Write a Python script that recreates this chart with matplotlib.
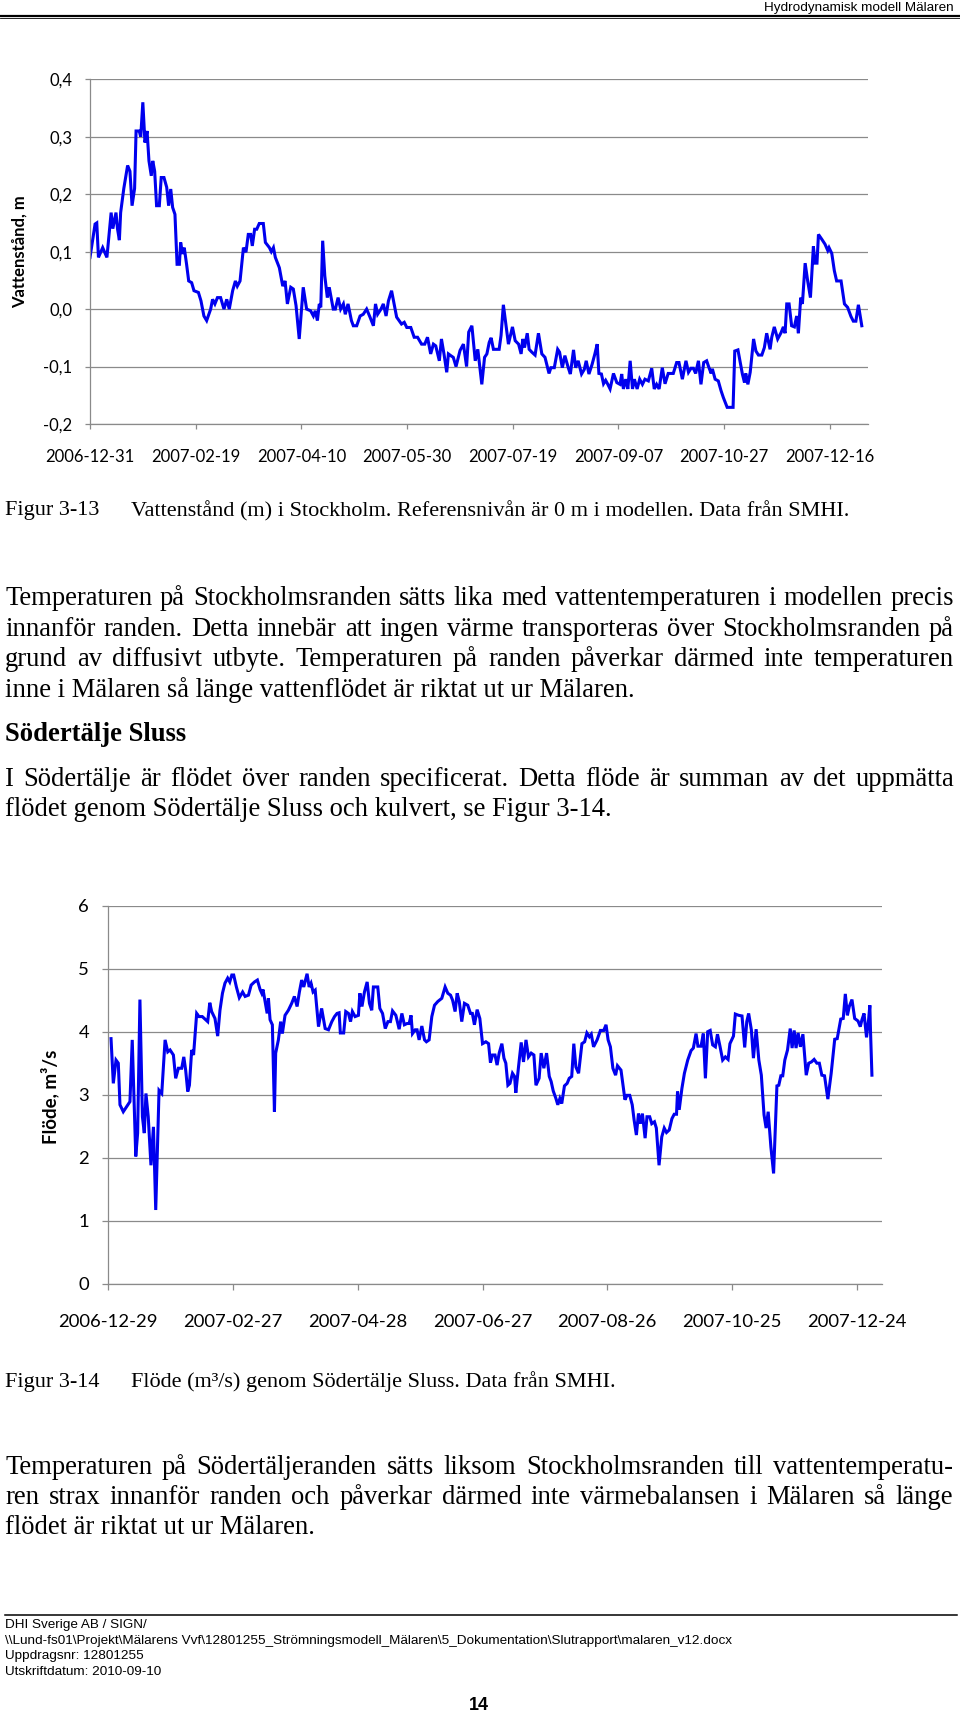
import unicodedata

import numpy as np
import matplotlib

matplotlib.use("Agg")
import matplotlib.pyplot as plt
from matplotlib import font_manager
from matplotlib.lines import Line2D

W, H = 960, 1714

# ---- data: Figur 3-13, water level Stockholm (days after 2006-12-31) ----
level_start = "2006-12-31"
level_days = [
    0, 2.4, 3.2, 4, 6, 8, 10, 10.8, 12.3, 13, 13.9, 14.5, 16, 17.8, 18.9, 19.9,
    21.1, 21.8, 23.3, 24, 25, 26, 27, 27.9, 29, 29.7, 30.6, 31.5, 32.8, 33.7, 35,
    36.3, 37.2, 38.2, 39.1, 40.2, 41.2, 42.3, 42.9, 43.8, 44.6, 45.7, 46.7, 48.1,
    49.2, 51.3, 52.5, 53.9, 55.2, 57.1, 58, 59.1, 60.3, 61.8, 63.4, 64.7, 65.9,
    67.5, 68.8, 69.7, 71, 72.6, 73.8, 74.9, 76, 76.8, 77.9, 78.9, 80.1, 82, 83,
    84.9, 85.8, 86.8, 87.7, 89.6, 91.2, 92.3, 93.4, 95, 96.2, 97.5, 99, 100.9,
    102.5, 104.4, 105.7, 106.6, 107.6, 108.5, 109.2, 110.1, 111.1, 112.3, 113.2,
    115.1, 116.1, 117.4, 118.6, 119.9, 120.8, 122.1, 123.7, 124.6, 126.2, 127.8,
    129.3, 130.9, 132.5, 134.1, 135.1, 136.1, 137.7, 138.8, 140.1, 141.2, 142.7,
    145.1, 147.4, 148.7, 149.9, 151.8, 153.4, 155, 156.9, 158.4, 159.7, 161.2,
    162.5, 163.6, 165.3, 166.3, 167.5, 168.8, 169.6, 170.7, 171.9, 173.2, 175.1,
    176.7, 178.2, 179.2, 180.7, 182.3, 183.5, 185.4, 186.7, 187.8, 188.9, 189.8,
    190.9, 193.6, 194.5, 195.6, 196.4, 198, 199.9, 201.2, 202.8, 204, 204.8,
    205.6, 206.9, 207.8, 209.1, 210.6, 212.2, 213.8, 215.3, 217.2, 218.1, 219.7,
    221.3, 222.2, 223.5, 224.7, 226.3, 227.3, 228.8, 229.8, 231, 232.6, 233.9,
    234.8, 236.1, 237.6, 238.9, 240, 240.8, 242, 243, 244, 244.9, 246.1, 247.7,
    249.3, 250.8, 251.6, 252.4, 253.5, 254.5, 255.6, 256.7, 257.6, 258.9, 260.1,
    261.4, 262.6, 264.2, 265.8, 267, 268.1, 269.3, 270.8, 272.1, 273.6, 276,
    277.6, 278.7, 280.3, 282, 283.2, 284.4, 285.5, 286.6, 287.9, 289.1, 290.4,
    291.8, 292.9, 293.9, 294.5, 295.8, 297.3, 298.6, 299.7, 301.5, 304.3, 305.1,
    306.6, 307.7, 308.7, 309.7, 310.3, 311.3, 312.4, 314, 315.1, 316.3, 317.9,
    319.1, 320.2, 321.8, 322.6, 323.8, 325.4, 327, 328.1, 328.9, 329.7, 330.8,
    332, 333.3, 334.4, 335.2, 336.3, 337.1, 338.4, 339.6, 340.9, 342.3, 343.1,
    344, 344.7, 346.2, 347.8, 349.1, 349.7, 351, 352.2, 353.3, 355.4, 357, 358.5,
    360.1, 361.2, 362.4, 363.6, 365.2,
]
level_m = [
    0.09, 0.148, 0.15, 0.09, 0.107, 0.09, 0.168, 0.14, 0.168, 0.14, 0.12, 0.168,
    0.21, 0.25, 0.24, 0.18, 0.21, 0.31, 0.31, 0.30, 0.36, 0.29, 0.31, 0.258,
    0.232, 0.258, 0.24, 0.18, 0.18, 0.229, 0.229, 0.212, 0.18, 0.209, 0.177,
    0.165, 0.078, 0.078, 0.116, 0.096, 0.107, 0.078, 0.049, 0.046, 0.032, 0.029,
    0.0145, -0.012, -0.02, 0.0, 0.017, 0.009, 0.02, 0.02, 0.0, 0.017, 0.0, 0.032,
    0.049, 0.04, 0.049, 0.107, 0.099, 0.13, 0.13, 0.11, 0.139, 0.139, 0.149,
    0.149, 0.116, 0.107, 0.1, 0.107, 0.09, 0.072, 0.04, 0.049, 0.009, 0.038,
    0.035, 0.006, -0.052, 0.038, 0.0, -0.003, -0.012, -0.003, -0.02, 0.009,
    0.003, 0.119, 0.058, 0.02, 0.038, 0.0, 0.0, 0.02, 0.0, 0.009, -0.009, 0.009,
    -0.02, -0.029, -0.029, -0.012, -0.009, 0.0, -0.014, -0.029, 0.009, -0.009,
    0.0, 0.009, -0.012, 0.014, 0.032, -0.014, -0.026, -0.023, -0.032, -0.032,
    -0.049, -0.049, -0.061, -0.061, -0.049, -0.078, -0.061, -0.064, -0.09,
    -0.052, -0.078, -0.11, -0.078, -0.081, -0.084, -0.1, -0.072, -0.061, -0.1,
    -0.04, -0.029, -0.09, -0.07, -0.131, -0.084, -0.078, -0.058, -0.05, -0.07,
    -0.07, -0.046, 0.0075, -0.015, -0.061, -0.031, -0.055, -0.061, -0.078,
    -0.052, -0.067, -0.042, -0.07, -0.075, -0.08, -0.042, -0.078, -0.084,
    -0.112, -0.102, -0.102, -0.07, -0.075, -0.102, -0.081, -0.102, -0.113,
    -0.071, -0.102, -0.09, -0.113, -0.105, -0.09, -0.113, -0.096, -0.078,
    -0.061, -0.112, -0.113, -0.13, -0.124, -0.13, -0.139, -0.112, -0.128,
    -0.131, -0.113, -0.139, -0.122, -0.139, -0.09, -0.139, -0.122, -0.139,
    -0.122, -0.131, -0.122, -0.125, -0.103, -0.139, -0.131, -0.139, -0.102,
    -0.13, -0.112, -0.112, -0.093, -0.093, -0.122, -0.09, -0.11, -0.103, -0.103,
    -0.112, -0.09, -0.131, -0.093, -0.09, -0.102, -0.112, -0.104, -0.122,
    -0.125, -0.142, -0.154, -0.171, -0.171, -0.073, -0.071, -0.093, -0.113,
    -0.128, -0.112, -0.131, -0.11, -0.052, -0.073, -0.08, -0.08, -0.067, -0.042,
    -0.07, -0.049, -0.031, -0.052, -0.041, -0.031, -0.042, 0.009, 0.009, -0.029,
    -0.031, -0.012, -0.042, 0.02, 0.009, 0.08, 0.049, 0.02, 0.109, 0.08, 0.08,
    0.13, 0.122, 0.113, 0.102, 0.107, 0.097, 0.067, 0.049, 0.049, 0.009, 0.003,
    -0.013, -0.021, -0.021, 0.0075, -0.029,
]
level_ticks = np.arange(0, 351, 50)
level_yticks = [-0.2, -0.1, 0.0, 0.1, 0.2, 0.3, 0.4]

# ---- data: Figur 3-14, flow Södertälje Sluss (days after 2006-12-29) ----
flow_start = "2006-12-29"
flow_days = [
    1.3, 2.4, 3.7, 4.8, 5.6, 7.2, 8.8, 10.4, 11.5, 13.2, 14.1, 15.2, 16.4, 17.3,
    18.1, 19.2, 20.5, 21.7, 22.8, 24.4, 25.7, 27.3, 28.6, 29.7, 31.3, 32.4, 33.7,
    35.3, 36.3, 37.2, 38.2, 39, 40.1, 41, 42.5, 43.6, 45.2, 46.8, 47.8, 48.8,
    49.7, 51.3, 52.6, 53.7, 54.9, 56.1, 57.4, 58.4, 59.4, 60.3, 61.6, 63, 64.6,
    65.8, 67.4, 68.7, 70.3, 71.7, 73, 73.8, 74.4, 75.4, 76.4, 77, 77.8, 78.9,
    79.9, 80.5, 81.8, 82.9, 83.7, 85, 86.6, 88.2, 89.5, 90.8, 91.9, 93, 94, 95.6,
    96.6, 97.5, 98.5, 99.5, 101.1, 102.6, 104.3, 105.9, 107.5, 108.8, 110, 111,
    111.6, 113.2, 114.2, 115.5, 116.5, 117.4, 118.7, 120.3, 121, 122, 123.2,
    124.5, 125.6, 126.7, 127.5, 129.6, 130.6, 131.9, 133.2, 134.5, 135.7, 136.7,
    138.3, 139.9, 141.2, 142.4, 143.7, 144.7, 145.6, 146.3, 147.6, 148.5, 149.5,
    150.8, 152.1, 153, 154.3, 155.6, 156.9, 158.5, 160.4, 162, 163.3, 164.6,
    165.6, 166.8, 167.8, 168.8, 170, 171.3, 172.9, 174.2, 175.1, 176.1, 177.4,
    178.7, 180, 181.6, 182.9, 183.8, 184.8, 186, 187, 188, 189.3, 190.3, 191.2,
    192.2, 193.2, 194.4, 195.4, 196, 197.3, 198.6, 199.7, 200.9, 202.1, 203.4,
    204.7, 205.7, 207.2, 208.2, 209.5, 210.8, 212.1, 213, 214, 215.3, 216.2,
    217.2, 218.1, 219.4, 220.7, 221.7, 222.9, 223.9, 224.9, 226.2, 227.8, 229.1,
    230.2, 231.4, 232.3, 233.4, 235.1, 236.7, 238.3, 239.4, 240.4, 241.5, 242.7,
    244, 244.9, 246.6, 247.6, 248.5, 249.5, 250.8, 252, 252.9, 254, 255, 255.9,
    256.9, 258.2, 259.1, 260.4, 261.4, 262.7, 263.6, 264.9, 266.2, 267.4, 268.5,
    269.8, 271.1, 272.2, 273.3, 273.8, 274.6, 275.9, 277.1, 278.7, 280.3, 281.4,
    282.7, 283.6, 285.1, 286.2, 287.2, 288.3, 289.5, 290.7, 292, 293, 294.2,
    295.5, 296.8, 298.1, 299, 300.7, 301.6, 303.2, 304.8, 306.1, 307.1, 308,
    309.3, 310.3, 311.6, 312.9, 314.1, 315.4, 316.4, 317.4, 318.7, 320, 321.6,
    322.5, 323.5, 324.4, 325.4, 326.7, 328, 328.9, 329.9, 330.8, 331.8, 332.9,
    334.1, 335.7, 336.9, 338.2, 339.5, 340.8, 342, 343.2, 344.5, 346.1, 347.7,
    349.4, 350.6, 352.3, 353.5, 354.5, 355.5, 356.4, 357.7, 359, 360.6, 361.7,
    362.5, 363.5, 364.7, 365.7, 366.3, 366.6, 367.3,
]
flow_m3s = [
    3.89, 3.18, 3.55, 3.50, 2.84, 2.73, 2.81, 2.89, 3.87, 2.02, 2.39, 4.51, 2.65,
    2.39, 3.02, 2.65, 1.88, 2.49, 1.17, 3.07, 3.02, 3.87, 3.68, 3.71, 3.63, 3.26,
    3.42, 3.42, 3.60, 3.39, 3.05, 3.15, 3.71, 3.63, 4.29, 4.24, 4.24, 4.19, 4.16,
    4.46, 4.32, 4.21, 3.93, 4.34, 4.61, 4.77, 4.85, 4.79, 4.90, 4.90, 4.71, 4.54,
    4.63, 4.56, 4.58, 4.74, 4.79, 4.82, 4.67, 4.61, 4.67, 4.48, 4.29, 4.53, 4.19,
    4.11, 2.73, 3.66, 3.87, 4.16, 3.97, 4.26, 4.34, 4.45, 4.56, 4.40, 4.63, 4.82,
    4.71, 4.92, 4.71, 4.77, 4.63, 4.66, 4.08, 4.37, 4.05, 4.03, 4.16, 4.24, 4.29,
    4.30, 3.98, 3.98, 4.32, 4.29, 4.16, 4.32, 4.24, 4.26, 4.61, 4.40, 4.63, 4.79,
    4.45, 4.34, 4.71, 4.71, 4.37, 4.29, 4.05, 4.16, 4.16, 4.33, 4.26, 4.04, 4.29,
    4.11, 4.13, 4.13, 4.26, 3.97, 4.03, 4.03, 3.87, 4.09, 3.87, 3.84, 3.87, 4.24,
    4.42, 4.48, 4.53, 4.71, 4.61, 4.58, 4.50, 4.32, 4.61, 4.48, 4.16, 4.45, 4.42,
    4.29, 4.29, 4.11, 4.35, 4.21, 3.81, 3.84, 3.81, 3.51, 3.63, 3.63, 3.47, 3.66,
    3.81, 3.58, 3.50, 3.15, 3.18, 3.34, 3.29, 3.03, 3.44, 3.83, 3.52, 3.87, 3.60,
    3.66, 3.63, 3.15, 3.26, 3.66, 3.42, 3.66, 3.29, 3.21, 3.06, 2.94, 2.84, 2.94,
    2.86, 3.14, 3.18, 3.26, 3.29, 3.81, 3.44, 3.34, 3.81, 3.84, 3.98, 3.92, 3.96,
    3.76, 3.87, 4.02, 4.02, 4.11, 3.87, 3.76, 3.42, 3.31, 3.46, 3.39, 3.14, 2.92,
    2.99, 2.99, 2.84, 2.60, 2.36, 2.70, 2.54, 2.70, 2.31, 2.65, 2.65, 2.54, 2.57,
    2.47, 1.88, 2.33, 2.47, 2.40, 2.44, 2.62, 2.69, 2.69, 3.05, 2.76, 3.10, 3.34,
    3.55, 3.70, 3.74, 3.97, 3.77, 3.77, 3.97, 3.26, 4.00, 4.02, 3.79, 3.76, 3.96,
    3.77, 3.55, 3.60, 3.56, 3.81, 3.93, 4.28, 4.26, 4.25, 3.75, 4.16, 4.29, 4.03,
    3.58, 4.04, 3.55, 3.31, 2.68, 2.47, 2.73, 2.17, 1.75, 3.14, 3.15, 3.30, 3.30,
    3.55, 3.71, 4.05, 3.74, 4.02, 3.74, 3.98, 3.76, 3.96, 3.31, 3.50, 3.52, 3.56,
    3.50, 3.50, 3.31, 3.30, 2.93, 3.34, 3.88, 3.89, 4.20, 4.21, 4.60, 4.26, 4.40,
    4.51, 4.21, 4.17, 4.08, 4.19, 4.29, 3.91, 4.19, 4.42, 4.03, 3.31,
]
flow_ticks = np.arange(0, 361, 60)
flow_yticks = [0, 1, 2, 3, 4, 5, 6]

# ---- page text ----
header = "Hydrodynamisk modell Mälaren"
caption_13 = "Vattenstånd (m) i Stockholm. Referensnivån är 0 m i modellen. Data från SMHI."
caption_14 = "Flöde (m³/s) genom Södertälje Sluss. Data från SMHI."
para_1 = [
    "Temperaturen på Stockholmsranden sätts lika med vattentemperaturen i modellen precis",
    "innanför randen. Detta innebär att ingen värme transporteras över Stockholmsranden på",
    "grund av diffusivt utbyte. Temperaturen på randen påverkar därmed inte temperaturen",
    "inne i Mälaren så länge vattenflödet är riktat ut ur Mälaren.",
]
heading = "Södertälje Sluss"
para_2 = [
    "I Södertälje är flödet över randen specificerat. Detta flöde är summan av det uppmätta",
    "flödet genom Södertälje Sluss och kulvert, se Figur 3-14.",
]
para_3 = [
    "Temperaturen på Södertäljeranden sätts liksom Stockholmsranden till vattentemperatu-",
    "ren strax innanför randen och påverkar därmed inte värmebalansen i Mälaren så länge",
    "flödet är riktat ut ur Mälaren.",
]
footer = [
    "DHI Sverige AB / SIGN/",
    r"\\Lund-fs01\Projekt\Mälarens Vvf\12801255_Strömningsmodell_Mälaren\5_Dokumentation\Slutrapport\malaren_v12.docx",
    "Uppdragsnr: 12801255",
    "Utskriftdatum: 2010-09-10",
]
page_no = "14"

BLUE = "#0000EE"
GRID = "#8A8A8A"
SERIF = "Liberation Serif"
CHART = "Lato"
BODY = 19.2
CAPTION = 16.0
_names = {f.name for f in font_manager.fontManager.ttflist}
NARROW = "Liberation Sans Narrow" if "Liberation Sans Narrow" in _names else "Liberation Sans"
SMALL = 11.8 if NARROW.endswith("Narrow") else 9.7


def nfc(s):
    return unicodedata.normalize("NFC", s)


def fx(x):
    return x / W


def fy(y):
    return 1 - y / H


def style_axes(ax, fs, tick_len, xpad):
    for side in ("top", "right"):
        ax.spines[side].set_visible(False)
    for side in ("left", "bottom"):
        ax.spines[side].set_color(GRID)
        ax.spines[side].set_linewidth(0.9)
    ax.grid(axis="y", color=GRID, linewidth=0.9)
    ax.set_axisbelow(True)
    ax.tick_params(axis="both", colors=GRID, labelcolor="black", labelsize=fs,
                   length=tick_len, width=0.9, direction="out")
    ax.tick_params(axis="y", pad=9.2)
    ax.tick_params(axis="x", pad=xpad)
    for lab in ax.get_xticklabels() + ax.get_yticklabels():
        lab.set_family(CHART)


def justified(fig, line, y, size, x0=5, x1=954, weight="normal"):
    # words share one baseline so accents (å) do not shift single words
    r = fig.canvas.get_renderer()
    base = y + 0.233 * size * 100 / 72
    words = nfc(line).split()
    arts = [fig.text(0, fy(base), w, family=SERIF, fontsize=size, weight=weight,
                     va="baseline", ha="left") for w in words]
    widths = [a.get_window_extent(r).width for a in arts]
    gap = (x1 - x0 - sum(widths)) / max(len(words) - 1, 1)
    x = x0
    for a, w in zip(arts, widths):
        a.set_x(fx(x))
        x += w + gap


def plain(fig, text, x, y, size, weight="normal", family=SERIF, ha="left"):
    fig.text(fx(x), fy(y), nfc(text), family=family, fontsize=size, weight=weight,
             va="center", ha=ha)


fig = plt.figure(figsize=(W / 100, H / 100), dpi=100, facecolor="white")

# header
plain(fig, header, 954, 8, SMALL, family=NARROW, ha="right")
fig.add_artist(Line2D([0, 1], [fy(15.5), fy(15.5)], color="black", lw=1.6))
fig.add_artist(Line2D([0, 1], [fy(18.3), fy(18.3)], color="black", lw=0.6))

# chart 1
ax1 = fig.add_axes([fx(90), fy(424), (867.7 - 90) / W, (424 - 79.3) / H])
ax1.plot(level_days, level_m, color=BLUE, lw=2.2, solid_joinstyle="miter")
ax1.set_xlim(0, 368)
ax1.set_ylim(-0.2, 0.4)
ax1.set_yticks(level_yticks)
ax1.set_yticklabels([f"{v:.1f}".replace(".", ",") for v in level_yticks])
ax1.set_xticks(level_ticks)
ax1.set_xticklabels((np.datetime64(level_start) + level_ticks).astype(str))
style_axes(ax1, 12, 3.6, 14.5)
fig.text(fx(20), fy(252), nfc("Vattenstånd, m"), rotation=90, ha="center", va="center",
         family=CHART, weight="bold", fontsize=12)

plain(fig, "Figur 3-13", 5, 511, CAPTION)
plain(fig, caption_13, 131, 511, CAPTION)

for i, line in enumerate(para_1):
    y = 599 + i * 30.3
    if i < len(para_1) - 1:
        justified(fig, line, y, BODY)
    else:
        plain(fig, line, 5, y, BODY)
plain(fig, heading, 5, 735, BODY, weight="bold")
justified(fig, para_2[0], 780, BODY)
plain(fig, para_2[1], 5, 809.5, BODY)

# chart 2
ax2 = fig.add_axes([fx(107.7), fy(1283.7), (881.7 - 107.7) / W, (1283.7 - 905.7) / H])
ax2.plot(flow_days, flow_m3s, color=BLUE, lw=2.2, solid_joinstyle="miter")
ax2.set_xlim(-0.3, 372)
ax2.set_ylim(0, 6)
ax2.set_yticks(flow_yticks)
ax2.set_yticklabels([str(v) for v in flow_yticks])
ax2.set_xticks(flow_ticks)
ax2.set_xticklabels((np.datetime64(flow_start) + flow_ticks).astype(str))
style_axes(ax2, 13.3, 4.3, 17.5)
fig.text(fx(50), fy(1097), nfc("Flöde, m³/s"), rotation=90, ha="center", va="center",
         family=CHART, weight="bold", fontsize=13.5)

plain(fig, "Figur 3-14", 5, 1382, CAPTION)
plain(fig, caption_14, 131, 1382, CAPTION)

for i, line in enumerate(para_3):
    y = 1468 + i * 30
    if i < len(para_3) - 1:
        justified(fig, line, y, BODY, x1=953)
    else:
        plain(fig, line, 5, y, BODY)

# footer
fig.add_artist(Line2D([fx(5), fx(957)], [fy(1615), fy(1615)], color="black", lw=1.1))
for i, line in enumerate(footer):
    plain(fig, line, 5, 1625 + i * 15.6, SMALL, family=NARROW)
plain(fig, page_no, 479, 1705, 13, weight="bold", family=NARROW, ha="center")

fig.savefig("out.png", dpi=100, facecolor="white")
